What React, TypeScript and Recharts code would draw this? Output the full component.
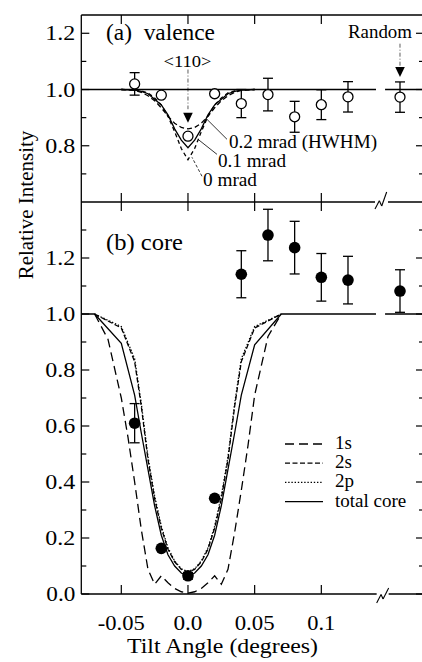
import React from 'react';
import {
  ComposedChart, Line, Scatter, XAxis, YAxis, ErrorBar,
  ReferenceLine, ReferenceDot, Legend,
} from 'recharts';

const FONT = '"Liberation Serif", "Times New Roman", Times, serif';
const INK = '#000';

// ---------- axes ----------
const X_DOMAIN = [-0.08, 0.177];
const X_TICKS = [-0.05, 0, 0.05, 0.1];
const X_TICK_LABELS = ['-0.05', '0.0', '0.05', '0.1'];

const VALENCE_DOMAIN = [0.6, 1.265];
const VALENCE_Y_TICKS = [0.7, 0.8, 0.9, 1.0, 1.1, 1.2];
const VALENCE_Y_LABELS = ['', '0.8', '', '1.0', '', '1.2'];

const CORE_DOMAIN = [0, 1.4];
const CORE_Y_TICKS = [0, 0.1, 0.2, 0.3, 0.4, 0.5, 0.6, 0.7, 0.8, 0.9, 1.0, 1.1, 1.2, 1.3];
const CORE_Y_LABELS = ['0.0', '', '0.2', '', '0.4', '', '0.6', '', '0.8', '', '1.0', '', '1.2', ''];

// ---------- experimental points ----------
const EXP_X = [-0.04, -0.02, 0, 0.02, 0.04, 0.06, 0.08, 0.1, 0.12, 0.159];
const VALENCE_Y = [1.02, 0.98, 0.834, 0.985, 0.95, 0.982, 0.903, 0.946, 0.974, 0.973];
const VALENCE_ERR = [0.04, null, null, null, 0.05, 0.058, 0.055, 0.053, 0.054, 0.054];
const CORE_Y = [0.61, 0.163, 0.065, 0.342, 1.142, 1.282, 1.237, 1.131, 1.121, 1.082];
const CORE_ERR = [0.07, null, 0.012, null, 0.084, 0.092, 0.094, 0.085, 0.085, 0.076];

// ---------- valence simulations ----------
const VAL_CURVE_X = [-0.05, -0.04, -0.035, -0.03, -0.025, -0.02, -0.015, -0.01, -0.005, 0,
  0.005, 0.01, 0.015, 0.02, 0.025, 0.03, 0.035, 0.04, 0.05];
const VAL_02MRAD = [1.0, 0.997, 0.99, 0.978, 0.96, 0.935, 0.905, 0.88, 0.865, 0.86,
  0.865, 0.88, 0.905, 0.935, 0.96, 0.978, 0.99, 0.997, 1.0];
const VAL_01MRAD = [1.0, 0.998, 0.993, 0.985, 0.965, 0.945, 0.91, 0.86, 0.82, 0.793,
  0.82, 0.86, 0.91, 0.945, 0.965, 0.985, 0.993, 0.998, 1.0];
const VAL_0MRAD = [1.0, 0.999, 0.995, 0.988, 0.97, 0.945, 0.905, 0.85, 0.79, 0.75,
  0.79, 0.85, 0.905, 0.945, 0.97, 0.988, 0.995, 0.999, 1.0];
const VAL_BASE_X = [-0.08, 0.141, 0.1445, 0.1478, 0.177];
const VAL_BASE_Y = [1, 1, null, 1, 1];

// ---------- core simulations ----------
const CORE_1S_X = [-0.07, -0.06, -0.05, -0.045, -0.04, -0.035, -0.03, -0.025, -0.02, -0.015,
  -0.01, -0.005, 0, 0.005, 0.01, 0.015, 0.02, 0.025, 0.03, 0.035, 0.04, 0.045, 0.05, 0.06, 0.07];
const CORE_1S = [1.0, 0.91, 0.7, 0.56, 0.4, 0.23, 0.088, 0.035, 0.065, 0.04,
  0.02, 0.008, 0.003, 0.008, 0.02, 0.04, 0.065, 0.035, 0.088, 0.22, 0.37, 0.53, 0.71, 0.92, 1.0];
const CORE_SHELL_X = [-0.07, -0.05, -0.04, -0.035, -0.03, -0.025, -0.02, -0.015, -0.01, -0.005, 0,
  0.005, 0.01, 0.015, 0.02, 0.025, 0.03, 0.035, 0.04, 0.05, 0.07];
const CORE_2S = [1.0, 0.95, 0.83, 0.67, 0.48, 0.34, 0.235, 0.16, 0.115, 0.088, 0.078,
  0.088, 0.115, 0.16, 0.235, 0.34, 0.48, 0.67, 0.83, 0.95, 1.0];
const CORE_2P = [1.0, 0.955, 0.84, 0.68, 0.49, 0.35, 0.242, 0.165, 0.118, 0.09, 0.08,
  0.09, 0.118, 0.165, 0.242, 0.35, 0.49, 0.68, 0.84, 0.955, 1.0];
const CORE_TOTAL_X = [-0.08, -0.07, -0.05, -0.04, -0.035, -0.03, -0.025, -0.02, -0.015, -0.01, -0.005, 0,
  0.005, 0.01, 0.015, 0.02, 0.025, 0.03, 0.035, 0.04, 0.05, 0.07, 0.141, 0.1445, 0.1478, 0.177];
const CORE_TOTAL = [1, 1.0, 0.895, 0.71, 0.575, 0.445, 0.315, 0.21, 0.14, 0.1, 0.075, 0.062,
  0.075, 0.1, 0.14, 0.21, 0.315, 0.445, 0.575, 0.71, 0.89, 1.0, 1, null, 1, 1];

const CORE_NAMES = ['1s', '2s', '2p', 'total core'];
const CORE_DASH: Record<string, string | undefined> = {
  '1s': '9 5', '2s': '5 2.5', '2p': '1.4 1.8', 'total core': undefined,
};

// rendered widths of text (style, matched to the printed figure)
const TEXT_W: Record<string, number> = {
  '-0.05': 47, '0.0': 29, '0.05': 40, '0.1': 28,
  '0.2': 30, '0.4': 30, '0.6': 30, '0.8': 30, '1.0': 30, '1.2': 30,
};

const pts = (xs: number[], ys: (number | null)[]) => xs.map((x, i) => ({ x, y: ys[i] }));
const expPts = (ys: number[], es: (number | null)[]) =>
  EXP_X.map((x, i) => ({ x, y: ys[i], err: es[i] == null ? undefined : es[i] }));

// ---------- ticks ----------
function XTick(props: any) {
  const { x, y, payload, dir, showLabel } = props;
  const idx = X_TICKS.indexOf(payload.value);
  const label = X_TICK_LABELS[idx];
  return (
    <g>
      <line x1={x} y1={y} x2={x} y2={y + dir * 9} stroke={INK} strokeWidth={1.2} />
      {showLabel && label != null && (
        <text x={x} y={y + 36} textAnchor="middle" fontFamily={FONT} fontSize={20} fill={INK}
          textLength={TEXT_W[label]} lengthAdjust="spacingAndGlyphs">
          {label}
        </text>
      )}
    </g>
  );
}

function YTick(props: any) {
  const { x, y, payload, side, ticks, labels } = props;
  const idx = ticks.indexOf(payload.value);
  const label = idx >= 0 ? labels[idx] : '';
  const len = label ? 8 : 5;
  const dir = side === 'left' ? 1 : -1;
  return (
    <g>
      <line x1={x} y1={y} x2={x + dir * len} y2={y} stroke={INK} strokeWidth={1.2} />
      {side === 'left' && label && (
        <text x={x - 6} y={y + 7} textAnchor="end" fontFamily={FONT} fontSize={20} fill={INK}
          textLength={TEXT_W[label]} lengthAdjust="spacingAndGlyphs">
          {label}
        </text>
      )}
    </g>
  );
}

const openCircle = (p: any) => (
  <circle cx={p.cx} cy={p.cy} r={5} fill="#fff" stroke={INK} strokeWidth={1.3} />
);
const filledCircle = (p: any) => <circle cx={p.cx} cy={p.cy} r={5.8} fill={INK} />;
const triangle = (p: any) => (
  <path d={`M${p.cx - 4.8},${p.cy - 5}L${p.cx + 4.8},${p.cy - 5}L${p.cx},${p.cy + 5}Z`} fill={INK} />
);

function CoreLegend(props: any) {
  const items = (props.payload || []).filter((e: any) => CORE_NAMES.includes(e.value));
  items.sort((a: any, b: any) => CORE_NAMES.indexOf(a.value) - CORE_NAMES.indexOf(b.value));
  return (
    <svg width={140} height={84} style={{ display: 'block', overflow: 'visible' }}>
      {items.map((e: any, i: number) => {
        const cy = 12 + i * 19.2;
        return (
          <g key={e.value}>
            <line x1={5} x2={43} y1={cy} y2={cy} stroke={INK} strokeWidth={1.3}
              strokeDasharray={CORE_DASH[e.value]} />
            <text x={55} y={cy + 5} fontFamily={FONT} fontSize={19} fill={INK}>{e.value}</text>
          </g>
        );
      })}
    </svg>
  );
}

const AX = { stroke: INK, strokeWidth: 1.3 };
const LW = 1.3;

export default function App() {
  const common = { type: 'number' as const, allowDataOverflow: true, interval: 0 as const, tickLine: false, tickSize: 0, tickMargin: 0 };
  return (
    <div style={{ position: 'fixed', left: 0, top: 0, width: 422, height: 662, overflow: 'hidden', background: '#fff' }}>
      {/* core panel */}
      <div style={{ position: 'absolute', left: 0, top: 0 }}>
        <ComposedChart width={440} height={662} margin={{ top: 201, right: 15, bottom: 67, left: 80.3 }}>
          <XAxis xAxisId="b" dataKey="x" {...common} domain={X_DOMAIN} ticks={X_TICKS} orientation="bottom"
            height={1} axisLine={false} tick={<XTick dir={-1} showLabel />} />
          <XAxis xAxisId="t" dataKey="x" {...common} domain={X_DOMAIN} ticks={X_TICKS} orientation="top"
            height={1} axisLine={false} tick={<XTick dir={1} />} />
          <YAxis yAxisId="l" {...common} domain={CORE_DOMAIN} ticks={CORE_Y_TICKS} orientation="left" width={1}
            axisLine={AX} tick={<YTick side="left" ticks={CORE_Y_TICKS} labels={CORE_Y_LABELS} />} />
          <YAxis yAxisId="r" {...common} domain={CORE_DOMAIN} ticks={CORE_Y_TICKS} orientation="right" width={1}
            axisLine={AX} tick={<YTick side="right" ticks={CORE_Y_TICKS} labels={CORE_Y_LABELS} />} />

          <ReferenceLine xAxisId="b" yAxisId="l" ifOverflow="visible" stroke={INK} strokeWidth={1.3}
            segment={[{ x: -0.08, y: 0 }, { x: 0.1415, y: 0 }]} />
          <ReferenceLine xAxisId="b" yAxisId="l" ifOverflow="visible" stroke={INK} strokeWidth={1.3}
            segment={[{ x: 0.1505, y: 0 }, { x: 0.177, y: 0 }]} />
          <ReferenceLine xAxisId="b" yAxisId="l" ifOverflow="visible" stroke={INK} strokeWidth={1.1}
            segment={[{ x: 0.1415, y: -0.032 }, { x: 0.1448, y: -0.002 }]} />
          <ReferenceLine xAxisId="b" yAxisId="l" ifOverflow="visible" stroke={INK} strokeWidth={1.1}
            segment={[{ x: 0.1448, y: -0.002 }, { x: 0.1463, y: -0.018 }]} />
          <ReferenceLine xAxisId="b" yAxisId="l" ifOverflow="visible" stroke={INK} strokeWidth={1.1}
            segment={[{ x: 0.1463, y: -0.018 }, { x: 0.1505, y: 0.021 }]} />

          <Line xAxisId="b" yAxisId="l" name="1s" data={pts(CORE_1S_X, CORE_1S)} dataKey="y" stroke={INK}
            strokeWidth={LW} strokeDasharray={CORE_DASH['1s']} dot={false} isAnimationActive={false} type="linear" />
          <Line xAxisId="b" yAxisId="l" name="2s" data={pts(CORE_SHELL_X, CORE_2S)} dataKey="y" stroke={INK}
            strokeWidth={LW} strokeDasharray={CORE_DASH['2s']} dot={false} isAnimationActive={false} type="linear" />
          <Line xAxisId="b" yAxisId="l" name="2p" data={pts(CORE_SHELL_X, CORE_2P)} dataKey="y" stroke={INK}
            strokeWidth={LW} strokeDasharray={CORE_DASH['2p']} dot={false} isAnimationActive={false} type="linear" />
          <Line xAxisId="b" yAxisId="l" name="total core" data={pts(CORE_TOTAL_X, CORE_TOTAL)} dataKey="y" stroke={INK}
            strokeWidth={LW} dot={false} isAnimationActive={false} type="linear" connectNulls={false} />

          <Scatter xAxisId="b" yAxisId="l" name="core exp" data={expPts(CORE_Y, CORE_ERR)} dataKey="y"
            shape={filledCircle} isAnimationActive={false} legendType="none">
            <ErrorBar dataKey="err" direction="y" width={5} stroke={INK} strokeWidth={1.3} isAnimationActive={false} />
          </Scatter>

          <Legend layout="horizontal" verticalAlign="middle" align="center" content={<CoreLegend />}
            wrapperStyle={{ position: 'absolute', left: 280, top: 432, width: 140, height: 84 }} />
        </ComposedChart>
      </div>

      {/* valence panel */}
      <div style={{ position: 'absolute', left: 0, top: 0 }}>
        <ComposedChart width={440} height={215} margin={{ top: 14, right: 15, bottom: 12, left: 80.3 }}>
          <XAxis xAxisId="b" dataKey="x" {...common} domain={X_DOMAIN} ticks={X_TICKS} orientation="bottom"
            height={1} axisLine={false} tick={<XTick dir={-1} />} />
          <XAxis xAxisId="t" dataKey="x" {...common} domain={X_DOMAIN} ticks={X_TICKS} orientation="top"
            height={1} axisLine={AX} tick={<XTick dir={1} />} />
          <YAxis yAxisId="l" {...common} domain={VALENCE_DOMAIN} ticks={VALENCE_Y_TICKS} orientation="left" width={1}
            axisLine={AX} tick={<YTick side="left" ticks={VALENCE_Y_TICKS} labels={VALENCE_Y_LABELS} />} />
          <YAxis yAxisId="r" {...common} domain={VALENCE_DOMAIN} ticks={VALENCE_Y_TICKS} orientation="right" width={1}
            axisLine={AX} tick={<YTick side="right" ticks={VALENCE_Y_TICKS} labels={VALENCE_Y_LABELS} />} />

          {/* divider with axis break */}
          <ReferenceLine xAxisId="b" yAxisId="l" ifOverflow="visible" stroke={INK} strokeWidth={1.3}
            segment={[{ x: -0.08, y: 0.6 }, { x: 0.14025, y: 0.6 }]} />
          <ReferenceLine xAxisId="b" yAxisId="l" ifOverflow="visible" stroke={INK} strokeWidth={1.3}
            segment={[{ x: 0.15, y: 0.6 }, { x: 0.177, y: 0.6 }]} />
          <ReferenceLine xAxisId="b" yAxisId="l" ifOverflow="visible" stroke={INK} strokeWidth={1.1}
            segment={[{ x: 0.14025, y: 0.575 }, { x: 0.1435, y: 0.6046 }]} />
          <ReferenceLine xAxisId="b" yAxisId="l" ifOverflow="visible" stroke={INK} strokeWidth={1.1}
            segment={[{ x: 0.1435, y: 0.6046 }, { x: 0.1453, y: 0.5858 }]} />
          <ReferenceLine xAxisId="b" yAxisId="l" ifOverflow="visible" stroke={INK} strokeWidth={1.1}
            segment={[{ x: 0.1453, y: 0.5858 }, { x: 0.149, y: 0.6356 }]} />

          {/* arrows */}
          <ReferenceLine xAxisId="b" yAxisId="l" stroke="#333" strokeWidth={0.8} strokeDasharray="4 2 1 2"
            segment={[{ x: 0, y: 1.071 }, { x: 0, y: 0.93 }]} />
          <ReferenceDot xAxisId="b" yAxisId="l" x={0} y={0.9} r={5} shape={triangle} />
          <ReferenceLine xAxisId="b" yAxisId="l" stroke="#333" strokeWidth={0.8} strokeDasharray="4 2 1 2"
            segment={[{ x: 0.159, y: 1.163 }, { x: 0.159, y: 1.08 }]} />
          <ReferenceDot xAxisId="b" yAxisId="l" x={0.159} y={1.062} r={5} shape={triangle} />

          {/* leader lines */}
          <ReferenceLine xAxisId="b" yAxisId="l" stroke={INK} strokeWidth={0.8}
            segment={[{ x: 0.02925, y: 0.823 }, { x: 0.01425, y: 0.894 }]} />
          <ReferenceLine xAxisId="b" yAxisId="l" stroke={INK} strokeWidth={0.8}
            segment={[{ x: 0.02175, y: 0.7695 }, { x: 0.0075, y: 0.823 }]} />
          <ReferenceLine xAxisId="b" yAxisId="l" stroke={INK} strokeWidth={0.8} strokeDasharray="3 2"
            segment={[{ x: 0.0105, y: 0.6915 }, { x: 0.003, y: 0.759 }]} />

          <Line xAxisId="b" yAxisId="l" name="baseline" data={pts(VAL_BASE_X, VAL_BASE_Y)} dataKey="y" stroke={INK}
            strokeWidth={LW} dot={false} isAnimationActive={false} type="linear" connectNulls={false} />
          <Line xAxisId="b" yAxisId="l" name="0.2 mrad (HWHM)" data={pts(VAL_CURVE_X, VAL_02MRAD)} dataKey="y" stroke={INK}
            strokeWidth={LW} strokeDasharray="5 3" dot={false} isAnimationActive={false} type="linear" />
          <Line xAxisId="b" yAxisId="l" name="0.1 mrad" data={pts(VAL_CURVE_X, VAL_01MRAD)} dataKey="y" stroke={INK}
            strokeWidth={LW} dot={false} isAnimationActive={false} type="linear" />
          <Line xAxisId="b" yAxisId="l" name="0 mrad" data={pts(VAL_CURVE_X, VAL_0MRAD)} dataKey="y" stroke={INK}
            strokeWidth={LW} strokeDasharray="4 3" dot={false} isAnimationActive={false} type="linear" />

          <Scatter xAxisId="b" yAxisId="l" name="valence exp" data={expPts(VALENCE_Y, VALENCE_ERR)} dataKey="y"
            shape={openCircle} isAnimationActive={false} legendType="none">
            <ErrorBar dataKey="err" direction="y" width={5} stroke={INK} strokeWidth={1.3} isAnimationActive={false} />
          </Scatter>
        </ComposedChart>
      </div>

      {/* text annotations */}
      <svg width={422} height={662} style={{ position: 'absolute', left: 0, top: 0, pointerEvents: 'none' }}
        fontFamily={FONT} fill={INK}>
        <text transform="translate(33,205) rotate(-90)" textAnchor="middle" fontSize={21}>Relative Intensity</text>
        <text x={222.5} y={653} textAnchor="middle" fontSize={22} textLength={191} lengthAdjust="spacingAndGlyphs">Tilt Angle (degrees)</text>
        <text x={106} y={40} fontSize={23} textLength={109} lengthAdjust="spacingAndGlyphs" style={{ whiteSpace: 'pre' }}>(a)  valence</text>
        <text x={106} y={250} fontSize={23} textLength={77} lengthAdjust="spacingAndGlyphs">(b) core</text>
        <text x={163.5} y={66.5} fontSize={17} textLength={48} lengthAdjust="spacingAndGlyphs">&lt;110&gt;</text>
        <text x={348} y={38} fontSize={18} textLength={64} lengthAdjust="spacingAndGlyphs">Random</text>
        <text x={229} y={148} fontSize={18} textLength={148} lengthAdjust="spacingAndGlyphs">0.2 mrad (HWHM)</text>
        <text x={218} y={167} fontSize={18} textLength={68} lengthAdjust="spacingAndGlyphs">0.1 mrad</text>
        <text x={203} y={186} fontSize={18} textLength={54} lengthAdjust="spacingAndGlyphs">0 mrad</text>
      </svg>
    </div>
  );
}
